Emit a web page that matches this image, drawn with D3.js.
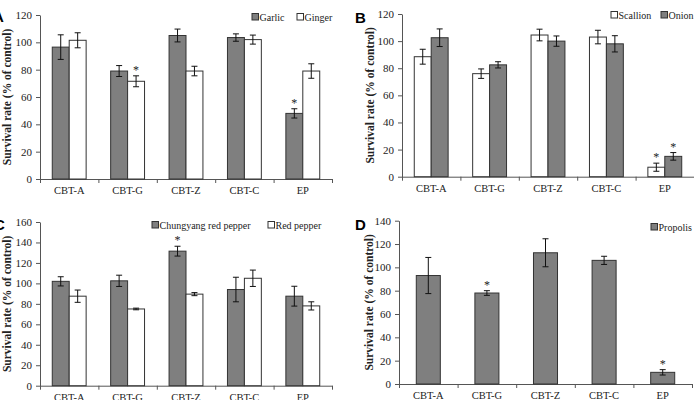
<!DOCTYPE html>
<html>
<head>
<meta charset="utf-8">
<script src="https://cdn.jsdelivr.net/npm/d3@7"></script>
<style>
  body { margin: 0; background: #fff; }
  svg { display: block; }
  text { font-family: "Liberation Serif", "Tinos", "Times New Roman", "DejaVu Serif", serif; fill: #222; }
  .panel-letter { font-family: "Liberation Sans", "DejaVu Sans", Arial, sans-serif; font-weight: 900; font-size: 15px; fill: #000; }
  .y-title { font-weight: bold; font-size: 11.5px; }
</style>
</head>
<body>
<svg id="chart" width="694" height="400"></svg>
<script>
const categories = ['CBT-A', 'CBT-G', 'CBT-Z', 'CBT-C', 'EP'];

// A
const garlic = [96.5, 79, 105, 103.5, 48];
const garlicErr = [9, 4, 4.7, 2.7, 3.4];
const garlicStar = [false, false, false, false, true];
const ginger = [101.5, 71.5, 79, 102, 79];
const gingerErr = [5.5, 4, 3.5, 3.3, 5.3];
const gingerStar = [false, true, false, false, false];

// B
const scallion = [88.5, 76, 104.5, 103, 7];
const scallionErr = [5.5, 3.5, 4.3, 5, 3];
const scallionStar = [false, false, false, false, true];
const onion = [102.5, 82.5, 100, 98, 15];
const onionErr = [6.5, 2.3, 3.8, 6, 2.8];
const onionStar = [false, false, false, false, true];

// C
const chungyang = [102, 102.5, 131.5, 94, 87.5];
const chungyangErr = [4.5, 5.5, 4.8, 12, 9.7];
const chungyangStar = [false, false, true, false, false];
const redPepper = [87.5, 75, 89.5, 105, 78];
const redPepperErr = [6, 0.8, 1.5, 8, 4];
const redPepperStar = [false, false, false, false, false];

// D
const propolis = [93, 78, 112.5, 106, 10];
const propolisErr = [15.5, 2, 12, 3.5, 2.3];
const propolisStar = [false, true, false, false, true];

const yTicksA = [0, 20, 40, 60, 80, 100, 120];
const yTicksC = [0, 20, 40, 60, 80, 100, 120, 140, 160];
const yTicksD = [0, 20, 40, 60, 80, 100, 120, 140];

const grey = '#7f7f7f';
const white = '#ffffff';
const serif = '"Liberation Serif", "Tinos", "Times New Roman", "DejaVu Serif", serif';

const panels = [
  {
    letter: 'A', letterX: -7, letterY: 22,
    left: 40, top: 15, bottom: 179, width: 292, titleX: 7,
    yMax: 120, yTicks: yTicksA, padding: 0.42,
    series: [
      { name: 'Garlic', values: garlic, err: garlicErr, star: garlicStar, fill: grey },
      { name: 'Ginger', values: ginger, err: gingerErr, star: gingerStar, fill: white }
    ],
    legend: [{ x: 252, y: 17 }, { x: 297, y: 17 }]
  },
  {
    letter: 'B', letterX: 355, letterY: 23,
    left: 402, top: 14, bottom: 176.7, width: 292, titleX: 370,
    yMax: 120, yTicks: yTicksA, padding: 0.42,
    series: [
      { name: 'Scallion', values: scallion, err: scallionErr, star: scallionStar, fill: white },
      { name: 'Onion', values: onion, err: onionErr, star: onionStar, fill: grey }
    ],
    legend: [{ x: 611, y: 15 }, { x: 661, y: 15 }]
  },
  {
    letter: 'C', letterX: -6, letterY: 230,
    left: 40, top: 222, bottom: 385.7, width: 292, titleX: 7,
    yMax: 160, yTicks: yTicksC, padding: 0.42,
    series: [
      { name: 'Chungyang red pepper', values: chungyang, err: chungyangErr, star: chungyangStar, fill: grey },
      { name: 'Red pepper', values: redPepper, err: redPepperErr, star: redPepperStar, fill: white }
    ],
    legend: [{ x: 152, y: 225 }, { x: 268, y: 225 }]
  },
  {
    letter: 'D', letterX: 355, letterY: 230,
    left: 399, top: 220.7, bottom: 384, width: 293, titleX: 369,
    yMax: 140, yTicks: yTicksD, padding: 0.59,
    series: [
      { name: 'Propolis', values: propolis, err: propolisErr, star: propolisStar, fill: grey }
    ],
    legend: [{ x: 651, y: 227 }]
  }
];

const svg = d3.select('#chart');

function drawPanel(p) {
  const height = p.bottom - p.top;
  const g = svg.append('g').attr('transform', `translate(${p.left},${p.top})`);

  const x = d3.scaleBand()
    .domain(categories)
    .range([0, p.width])
    .paddingInner(p.padding)
    .paddingOuter(p.padding / 2);

  const xSub = d3.scaleBand()
    .domain(p.series.map(s => s.name))
    .range([0, x.bandwidth()]);

  const y = d3.scaleLinear().domain([0, p.yMax]).range([height, 0]);

  // y axis
  const yAxis = g.append('g')
    .call(d3.axisLeft(y).tickValues(p.yTicks).tickSize(4).tickPadding(4).tickSizeOuter(0));
  yAxis.attr('font-family', null);
  yAxis.selectAll('text').style('font-family', serif).attr('font-size', 11).attr('fill', '#222');
  yAxis.selectAll('line, path').attr('stroke', '#555');

  // x axis: ticks at the category boundaries
  const xEdges = d3.scaleLinear().domain([0, categories.length]).range([0, p.width]);
  const xTicks = g.append('g')
    .attr('transform', `translate(0,${height})`)
    .call(d3.axisBottom(xEdges).ticks(categories.length).tickSize(4).tickFormat('').tickSizeOuter(0));
  xTicks.selectAll('line, path').attr('stroke', '#555');

  const xLabels = g.append('g')
    .attr('transform', `translate(0,${height})`)
    .call(d3.axisBottom(x).tickSize(0).tickPadding(8));
  xLabels.attr('font-family', null);
  xLabels.select('.domain').remove();
  xLabels.selectAll('text').style('font-family', serif).attr('font-size', 10.5).attr('fill', '#222');

  // bars
  const rows = [];
  p.series.forEach(s => {
    categories.forEach((c, i) => {
      rows.push({ cat: c, name: s.name, v: s.values[i], e: s.err[i], star: s.star[i], fill: s.fill });
    });
  });

  const bx = d => x(d.cat) + xSub(d.name);
  const bw = xSub.bandwidth();

  g.append('g').selectAll('rect')
    .data(rows)
    .join('rect')
    .attr('x', bx)
    .attr('y', d => y(d.v))
    .attr('width', bw)
    .attr('height', d => y(0) - y(d.v))
    .attr('fill', d => d.fill)
    .attr('stroke', '#333')
    .attr('stroke-width', 1);

  const err = g.append('g').attr('stroke', '#111').attr('stroke-width', 1);
  const cx = d => bx(d) + bw / 2;
  err.selectAll('line.v').data(rows).join('line').attr('class', 'v')
    .attr('x1', cx).attr('x2', cx)
    .attr('y1', d => y(d.v + d.e)).attr('y2', d => y(d.v - d.e));
  err.selectAll('line.t').data(rows).join('line').attr('class', 't')
    .attr('x1', d => cx(d) - 3).attr('x2', d => cx(d) + 3)
    .attr('y1', d => y(d.v + d.e)).attr('y2', d => y(d.v + d.e));
  err.selectAll('line.b').data(rows).join('line').attr('class', 'b')
    .attr('x1', d => cx(d) - 3).attr('x2', d => cx(d) + 3)
    .attr('y1', d => y(d.v - d.e)).attr('y2', d => y(d.v - d.e));

  g.append('g').selectAll('text')
    .data(rows.filter(d => d.star))
    .join('text')
    .attr('x', cx)
    .attr('y', d => y(d.v + d.e) - 2)
    .attr('text-anchor', 'middle')
    .attr('font-size', 12)
    .style('fill', '#222')
    .text('*');

  // y title
  svg.append('text')
    .attr('class', 'y-title')
    .attr('transform', `translate(${p.titleX},${p.top + height / 2}) rotate(-90)`)
    .attr('text-anchor', 'middle')
    .attr('dominant-baseline', 'central')
    .text('Survival rate (% of control)');

  // panel letter
  svg.append('text')
    .attr('class', 'panel-letter')
    .attr('x', p.letterX)
    .attr('y', p.letterY)
    .text(p.letter);

  // legend
  p.series.forEach((s, i) => {
    const pos = p.legend[i];
    svg.append('rect')
      .attr('x', pos.x).attr('y', pos.y - 3.5)
      .attr('width', 6.5).attr('height', 6.5)
      .attr('fill', s.fill).attr('stroke', '#333');
    svg.append('text')
      .attr('x', pos.x + 7.5).attr('y', pos.y)
      .attr('dominant-baseline', 'central')
      .attr('font-size', 10)
      .text(s.name);
  });
}

panels.forEach(drawPanel);
</script>
</body>
</html>
